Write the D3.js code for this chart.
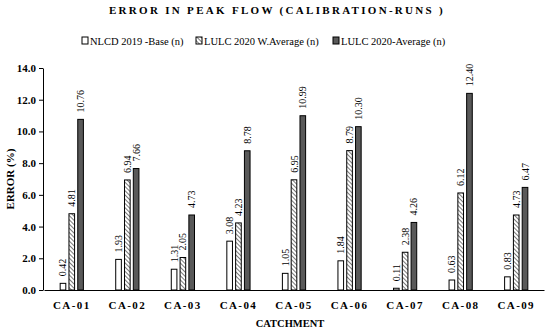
<!DOCTYPE html>
<html>
<head>
<meta charset="utf-8">
<script src="https://cdn.jsdelivr.net/npm/d3@7"></script>
<style>
  body { margin: 0; background: #fff; }
  svg { font-family: "Liberation Serif", "DejaVu Serif", serif; }
</style>
</head>
<body>
<svg id="chart" width="550" height="333"></svg>
<script>
const categories = ["CA-01", "CA-02", "CA-03", "CA-04", "CA-05", "CA-06", "CA-07", "CA-08", "CA-09"];
const seriesNames = ["NLCD 2019 -Base (n)", "LULC 2020 W.Average (n)", "LULC 2020-Average (n)"];
const nlcdBase = [0.42, 1.93, 1.31, 3.08, 1.05, 1.84, 0.11, 0.63, 0.83];
const lulcWAvg = [4.81, 6.94, 2.05, 4.23, 6.95, 8.79, 2.38, 6.12, 4.73];
const lulcAvg = [10.76, 7.66, 4.73, 8.78, 10.99, 10.30, 4.26, 12.40, 6.47];
const yTicks = [0, 2, 4, 6, 8, 10, 12, 14];

const svg = d3.select("#chart");
const margin = { top: 68, right: 6, bottom: 43, left: 44 };
const width = 550 - margin.left - margin.right;
const height = 333 - margin.top - margin.bottom;

const defs = svg.append("defs");
const pat = defs.append("pattern")
  .attr("id", "hatch")
  .attr("patternUnits", "userSpaceOnUse")
  .attr("width", 3).attr("height", 3)
  .attr("patternTransform", "rotate(-45)");
pat.append("rect").attr("width", 3).attr("height", 3).attr("fill", "#fff");
pat.append("line").attr("x1", 0).attr("y1", 0).attr("x2", 0).attr("y2", 3)
  .attr("stroke", "#222").attr("stroke-width", 1.2);

const fills = ["#fff", "url(#hatch)", "#595959"];
const series = [nlcdBase, lulcWAvg, lulcAvg];

// title
svg.append("text")
  .attr("x", 277).attr("y", 14)
  .attr("text-anchor", "middle")
  .style("font-size", "11px").style("font-weight", "bold")
  .style("letter-spacing", "2.3px")
  .text("ERROR IN PEAK FLOW (CALIBRATION-RUNS )");

// legend
const legendX = [82, 196, 333];
const leg = svg.append("g");
seriesNames.forEach((name, i) => {
  const g = leg.append("g").attr("transform", "translate(" + legendX[i] + ",37)");
  g.append("rect").attr("x", 0).attr("y", 0).attr("width", 6).attr("height", 7)
    .attr("fill", fills[i]).attr("stroke", "#000").attr("stroke-width", 1);
  g.append("text").attr("x", 8).attr("y", 7.5)
    .style("font-size", "10.5px")
    .text(name);
});

const g = svg.append("g")
  .attr("transform", "translate(" + margin.left + "," + margin.top + ")");

const x = d3.scaleBand().domain(categories).range([0, width]).padding(0);
const xInner = d3.scaleBand().domain([0, 1, 2]).range([13, x.bandwidth() - 13]).padding(0.36);
const y = d3.scaleLinear().domain([0, 14]).range([height, 0]);

// y axis
const yAxis = g.append("g")
  .attr("transform", "translate(-1,0)")
  .call(d3.axisLeft(y).tickValues(yTicks).tickFormat(d3.format(".1f")).tickSize(4).tickSizeOuter(0));
yAxis.select(".domain").attr("stroke", "#000").attr("stroke-width", 1);
yAxis.selectAll("text")
  .style("font-family", "Liberation Serif, serif")
  .style("font-size", "11px").style("font-weight", "bold").attr("fill", "#000");

// x axis
const xAxis = g.append("g")
  .attr("transform", "translate(0," + height + ")")
  .call(d3.axisBottom(x).tickSize(0).tickPadding(11));
xAxis.select(".domain").attr("stroke", "#000").attr("stroke-width", 1);
xAxis.selectAll("text")
  .style("font-family", "Liberation Serif, serif")
  .style("font-size", "11px").style("font-weight", "bold")
  .style("letter-spacing", "1.4px").attr("fill", "#000");

// bars
categories.forEach((c, ci) => {
  series.forEach((vals, si) => {
    const v = vals[ci];
    const bx = x(c) + xInner(si);
    g.append("rect")
      .attr("x", bx)
      .attr("y", y(v))
      .attr("width", xInner.bandwidth())
      .attr("height", height - y(v))
      .attr("fill", fills[si])
      .attr("stroke", "#000")
      .attr("stroke-width", 1);
    const lx = bx + xInner.bandwidth() / 2 + 3.5;
    const ly = y(v) - 7;
    g.append("text")
      .attr("transform", "translate(" + lx + "," + ly + ") rotate(-90)")
      .style("font-size", "10px")
      .text(v.toFixed(2));
  });
});

// axis titles
svg.append("text")
  .attr("transform", "translate(14," + (margin.top + height / 2) + ") rotate(-90)")
  .attr("text-anchor", "middle")
  .style("font-size", "11px").style("font-weight", "bold")
  .text("ERROR (%)");

svg.append("text")
  .attr("x", 290).attr("y", 327)
  .attr("text-anchor", "middle")
  .style("font-size", "10.5px").style("font-weight", "bold")
  .text("CATCHMENT");
</script>
</body>
</html>
